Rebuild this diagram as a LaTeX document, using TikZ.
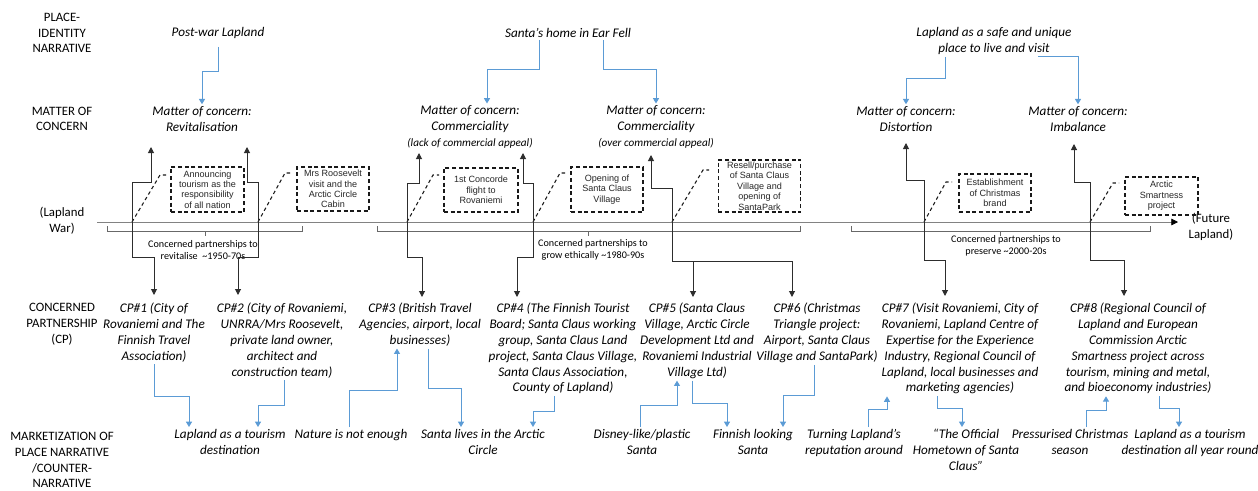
\documentclass[tikz,border=0pt]{standalone}
\usepackage{fontspec}
\setmainfont{Carlito}
\newfontfamily\boxfont{Liberation Sans}
\usepackage{tikz}
\usetikzlibrary{arrows.meta,shapes,positioning}
\definecolor{lpblue}{RGB}{91,155,213}
\definecolor{lpdark}{RGB}{45,45,45}
\definecolor{lpgray}{RGB}{130,130,130}
\tikzstyle{rowlabel} = [align=center, inner sep=1.5pt, font=\fontsize{9.6}{11.8}\selectfont]
\tikzstyle{story} = [align=center, inner sep=1.5pt, font=\fontsize{9.9}{11.85}\selectfont\itshape]
\tikzstyle{event} = [draw=black!90, dash pattern=on 3pt off 2pt, line width=0.9pt, align=center, inner sep=0.5pt, minimum width=54pt, minimum height=33pt, font=\boxfont\fontsize{6.8}{7.8}\selectfont, text=black!85]
\tikzstyle{leader} = [black!90, line width=0.8pt, dash pattern=on 2.6pt off 2.2pt]
\tikzstyle{blk} = [lpdark, line width=0.75pt, -{Triangle[length=4.5pt,width=4.5pt]}]
\tikzstyle{blu} = [lpblue, line width=0.75pt, -{Triangle[length=4pt,width=4.5pt]}]
\tikzstyle{timeline} = [lpgray, line width=0.6pt]
\tikzstyle{brk} = [lpgray!80!black, line width=0.6pt]
\tikzstyle{period} = [align=center, inner sep=1pt, font=\fontsize{7.6}{8.6}\selectfont]
\newcommand{\smallstory}{\fontsize{8.4}{11.85}\selectfont}

\begin{document}
\begin{tikzpicture}[x=0.75pt,y=-0.75pt]
\useasboundingbox (0,0) rectangle (1258,490);

% row labels
\node[rowlabel] (lplace) at (62,33) {PLACE-\\IDENTITY\\NARRATIVE};
\node[rowlabel] (lmoc) at (62,119) {MATTER OF\\CONCERN};
\node[rowlabel] (lwar) at (62,221) {(Lapland\\War)};
\node[rowlabel] (lcp) at (62,324) {CONCERNED\\PARTNERSHIP\\(CP)};
\node[rowlabel] (lmkt) at (62,460) {MARKETIZATION OF\\PLACE NARRATIVE\\/COUNTER-\\NARRATIVE};

% place-identity narratives
\node[story] (postwar) at (218,33) {Post-war Lapland};
\node[story] (earfell) at (568,33) {Santa’s home in Ear Fell};
\node[story] (safe) at (994,41) {Lapland as a safe and unique\\place to live and visit};

% matters of concern
\node[story] (revit) at (202,119) {Matter of concern:\\Revitalisation};
\node[story] (lack) at (470,127) {Matter of concern:\\Commerciality\\{\smallstory (lack of commercial appeal)}};
\node[story] (over) at (656,127) {Matter of concern:\\Commerciality\\{\smallstory (over commercial appeal)}};
\node[story] (distort) at (906,119) {Matter of concern:\\Distortion};
\node[story] (imbal) at (1078,119) {Matter of concern:\\Imbalance};

\draw[blu] (postwar.south) ++(0,6) -- ++(0,25) -| (revit.north);
\draw[blu] (earfell.south -| 539,0) -- ++(0,30) -| (lack.north -| 487,0);
\draw[blu] (earfell.south -| 603,0) -- ++(0,30) -| (over.north);
\draw[blu] (safe.south -| 945,0) -- ++(0,22) -| (distort.north);
\draw[blu] (safe.south -| 1038,0) -| (imbal.north);

% timeline
\coordinate (tstart) at (97,222);
\coordinate (tend) at (1178,222);
\draw[timeline, -{Triangle[length=5pt,width=5pt,color=black]}] (tstart) -- (tend);
\node[rowlabel] (future) at (1211,227) {(Future\\Lapland)};

% periods
\draw[brk] (107,226) |- (302,231) -- (302,226);
\draw[brk] (205,231) -- ++(0,5);
\node[period] (grow1) at (203,250) {Concerned partnerships to\\revitalise~ \textasciitilde1950-70s};
\draw[brk] (377,226) |- (800,231) -- (800,226);
\draw[brk] (588,231) -- ++(0,5);
\node[period] (grow2) at (593,250) {Concerned partnerships to\\grow ethically \textasciitilde1980-90s};
\draw[brk] (851,226) |- (1150,231) -- (1150,226);
\draw[brk] (1000,231) -- ++(0,5);
\node[period] (grow3) at (1006,246) {Concerned partnerships to\\preserve \textasciitilde2000-20s};

% events on the timeline
\coordinate (ev1) at (132,222);
\coordinate (ev2) at (258,222);
\coordinate (ev3) at (407,222);
\coordinate (ev4) at (533,222);
\coordinate (ev5) at (672,222);
\coordinate (ev6) at (924,222);
\coordinate (ev7) at (1090,222);

\node[event, minimum width=54.75pt, minimum height=33.75pt] (bx1) at (207.5,189.5) {Announcing\\tourism as the\\responsibility\\of all nation};
\node[event] (bx2) at (333,189) {Mrs Roosevelt\\visit and the\\Arctic Circle\\Cabin};
\node[event, minimum width=55.5pt] (bx3) at (481,190) {1st Concorde\\flight to\\Rovaniemi};
\node[event, minimum height=33.75pt] (bx4) at (607,189.5) {Opening of\\Santa Claus\\Village};
\node[event, minimum width=62pt, minimum height=39pt] (bx5) at (759.5,186) {Resell/purchase\\of Santa Claus\\Village and\\opening of\\SantaPark};
\node[event, minimum height=28.5pt] (bx6) at (995,193) {Establishment\\of Christmas\\brand};
\node[event, minimum width=54.75pt, minimum height=28.5pt] (bx7) at (1161.5,196) {Arctic\\Smartness\\project};

\draw[leader] (ev1) -- ++(28,-47) -- ++(6,0);
\draw[leader] (ev2) -- ++(27,-49) -- ++(6,0);
\draw[leader] (ev3) -- ++(26,-47) -- ++(6,0);
\draw[leader] (ev4) -- ++(27,-49) -- ++(6,0);
\draw[leader] (ev5) -- ++(31,-52) -- ++(6,0);
\draw[leader] (ev6) -- ++(22,-40) -- ++(6,0);
\draw[leader] (ev7) -- ++(23,-39) -- ++(6,0);

% arrow ends of the events
\coordinate (ev1up) at (151,147);  \coordinate (ev1dn) at (154,295);
\coordinate (ev2up) at (247,147);  \coordinate (ev2dn) at (238,295);
\coordinate (ev3up) at (419,153);  \coordinate (ev3dn) at (422,297);
\coordinate (ev4up) at (523,153);  \coordinate (ev4dn) at (517,297);
\coordinate (ev5up) at (651,155);  \coordinate (ev5dn) at (693,297);
\coordinate (ev5dnb) at (792,297);
\coordinate (ev6up) at (906,143);  \coordinate (ev6dn) at (945,296);
\coordinate (ev7up) at (1074,144); \coordinate (ev7dn) at (1124,296);

\draw[blk] (ev1) -- ++(0,-40) -| (ev1up);
\draw[blk] (ev1) -- ++(0,35) -| (ev1dn);
\draw[blk] (ev2) -- ++(0,-40) -| (ev2up);
\draw[blk] (ev2) -- ++(0,35) -| (ev2dn);
\draw[blk] (ev3) -- ++(0,-39) -| (ev3up);
\draw[blk] (ev3) -- ++(0,35) -| (ev3dn);
\draw[blk] (ev4) -- ++(0,-39) -| (ev4up);
\draw[blk] (ev4) -- ++(0,35) -| (ev4dn);
\draw[blk] (ev5) -- ++(0,-34) -| (ev5up);
\draw[blk] (ev5) -- ++(0,39) -| (ev5dn);
\draw[blk] (ev5) ++(0,39) -| (ev5dnb);
\draw[blk] (ev6) -- ++(0,-42) -| (ev6up);
\draw[blk] (ev6) -- ++(0,38) -| (ev6dn);
\draw[blk] (ev7) -- ++(0,-40) -| (ev7up);
\draw[blk] (ev7) -- ++(0,38) -| (ev7dn);

% concerned partnerships
\node[story, anchor=north] (cp1) at (154,301) {CP\#1 (City of\\Rovaniemi and The\\Finnish Travel\\Association)};
\node[story, anchor=north] (cp2) at (282,301) {CP\#2 (City of Rovaniemi,\\UNRRA/Mrs Roosevelt,\\private land owner,\\architect and\\construction team)};
\node[story, anchor=north] (cp3) at (420,301) {CP\#3 (British Travel\\Agencies, airport, local\\businesses)};
\node[story, anchor=north] (cp4) at (563,301) {CP\#4 (The Finnish Tourist\\Board; Santa Claus working\\group, Santa Claus Land\\project, Santa Claus Village,\\Santa Claus Association,\\County of Lapland)};
\node[story, anchor=north] (cp5) at (697,301) {CP\#5 (Santa Claus\\Village, Arctic Circle\\Development Ltd and\\Rovaniemi Industrial\\Village Ltd)};
\node[story, anchor=north] (cp6) at (817,301) {CP\#6 (Christmas\\Triangle project:\\Airport, Santa Claus\\Village and SantaPark)};
\node[story, anchor=north] (cp7) at (960,301) {CP\#7 (Visit Rovaniemi, City of\\Rovaniemi, Lapland Centre of\\Expertise for the Experience\\Industry, Regional Council of\\Lapland, local businesses and\\marketing agencies)};
\node[story, anchor=north] (cp8) at (1138,301) {CP\#8 (Regional Council of\\Lapland and European\\Commission Arctic\\Smartness project across\\tourism, mining and metal,\\and bioeconomy industries)};

% marketization of place narrative / counter-narrative
\node[story, anchor=north] (tour1) at (230,427) {Lapland as a tourism\\destination};
\node[story, anchor=north] (nature) at (351,427) {Nature is not enough};
\node[story, anchor=north] (arctic) at (483,427) {Santa lives in the Arctic\\Circle};
\node[story, anchor=north] (disney) at (642,427) {Disney-like/plastic\\Santa};
\node[story, anchor=north] (finnish) at (753,427) {Finnish looking\\Santa};
\node[story, anchor=north] (turning) at (854,427) {Turning Lapland’s\\reputation around};
\node[story, anchor=north] (official) at (966,427) {“The Official\\Hometown of Santa\\Claus”};
\node[story, anchor=north] (pressure) at (1070,427) {Pressurised Christmas\\season};
\node[story, anchor=north] (allyear) at (1190,427) {Lapland as a tourism\\destination all year round};

\draw[blu] (cp1.south) -- ++(0,32) -| (tour1.north -| 189,0);
\draw[blu] (cp2.south -| 284,0) -- ++(0,25) -| (tour1.north -| 258,0);
\draw[blu] (nature.north -| 349,0) -- ++(0,-37) -| (cp3.south -| 397,0);
\draw[blu] (cp3.south -| 428,0) -- ++(0,40) -| (arctic.north -| 461,0);
\draw[blu] (cp4.south -| 554,0) -- ++(0,15) -| (arctic.north -| 533,0);
\draw[blu] (disney.north -| 640,0) -- ++(0,-22) -| (cp5.south -| 677,0);
\draw[blu] (cp5.south -| 692,0) -- ++(0,23) -| (finnish.north -| 727,0);
\draw[blu] (cp6.south -| 814,0) -- ++(0,31) -| (finnish.north -| 783,0);
\draw[blu] (turning.north -| 868,0) -- ++(0,-18) -| (cp7.south -| 887,0);
\draw[blu] (cp7.south -| 937,0) -- ++(0,12) -| (official.north -| 962,0);
\draw[blu] (pressure.north -| 1086,0) -- ++(0,-17) -| (cp8.south -| 1106,0);
\draw[blu] (cp8.south -| 1159,0) -- ++(0,12) -| (allyear.north -| 1179,0);
\end{tikzpicture}
\end{document}
